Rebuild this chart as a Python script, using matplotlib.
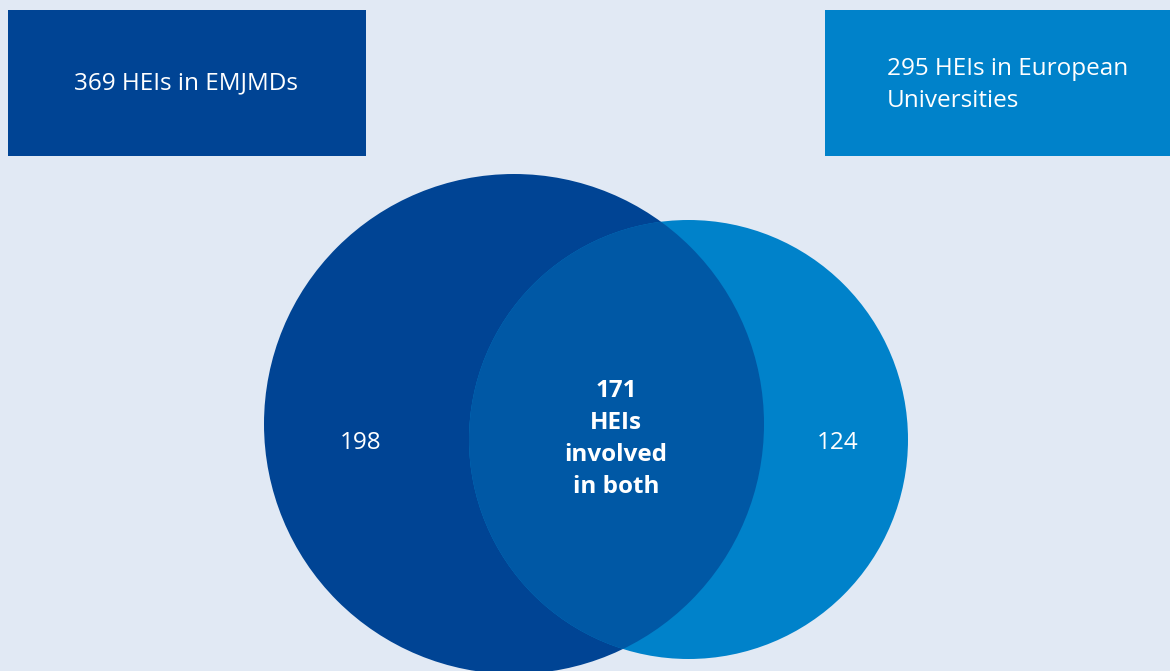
import matplotlib
matplotlib.use("Agg")
import matplotlib.pyplot as plt
from matplotlib.patches import Circle, Rectangle

# ------------- Data ------------- #
set_labels = ["369 HEIs in EMJMDs", "295 HEIs in European\nUniversities"]
only_counts = ["198", "124"]
both_label = "171\nHEIs\ninvolved\nin both"

# ------------- Style ------------- #
BG = "#e1e9f4"
DARK = "#004494"
LIGHT = "#0082ca"
MID = "#0058a5"
plt.rcParams["font.family"] = ["Open Sans", "DejaVu Sans"]
FS = 17.5

W, H = 1170, 671
fig = plt.figure(figsize=(W / 100, H / 100), dpi=100, facecolor=BG)
ax = fig.add_axes([0, 0, 1, 1])
ax.set_xlim(0, W)
ax.set_ylim(H, 0)
ax.set_facecolor(BG)
ax.axis("off")

# header boxes
ax.add_patch(Rectangle((8, 10), 358, 146, color=DARK, lw=0))
ax.add_patch(Rectangle((825, 10), 345, 146, color=LIGHT, lw=0))
ax.text(186, 83, set_labels[0], color="white", fontsize=FS,
        ha="center", va="center")
ax.text(887, 85, set_labels[1], color="white", fontsize=FS,
        ha="left", va="center", linespacing=1.42)

# venn circles
left = Circle((514, 424), 250, color=DARK, lw=0)
right = Circle((688.5, 439.5), 219.5, color=LIGHT, lw=0)
ax.add_patch(left)
ax.add_patch(right)
overlap = Circle((688.5, 439.5), 219.5, color=MID, lw=0)
ax.add_patch(overlap)
overlap.set_clip_path(left)

ax.text(361, 443, only_counts[0], color="white", fontsize=FS,
        ha="center", va="center")
ax.text(838, 443, only_counts[1], color="white", fontsize=FS,
        ha="center", va="center")
ax.text(616, 439, both_label, color="white", fontsize=FS, fontweight="bold",
        ha="center", va="center", linespacing=1.45)

fig.savefig("out.png", dpi=100, facecolor=BG)
